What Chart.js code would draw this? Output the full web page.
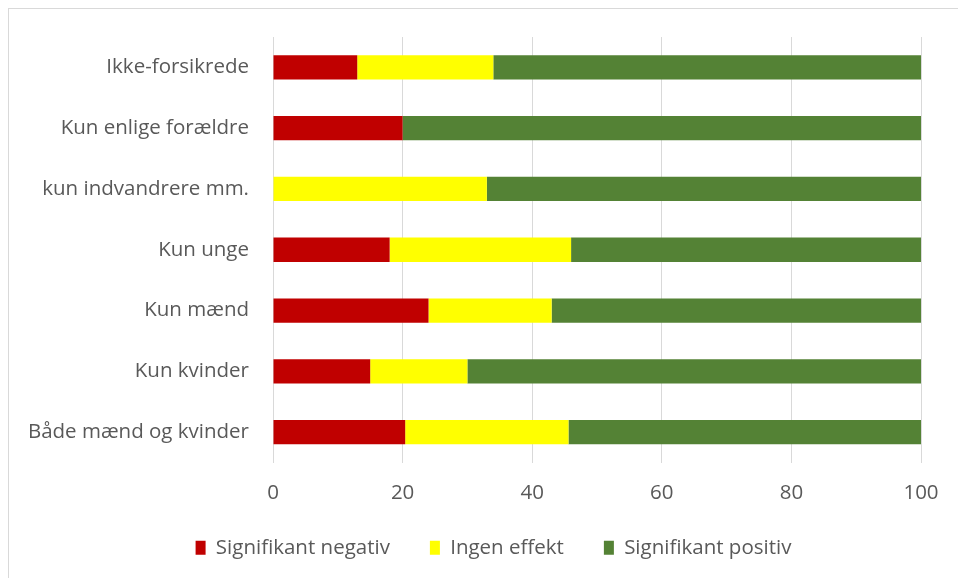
<!DOCTYPE html>
<html>
<head>
<meta charset="utf-8">
<script src="https://cdn.jsdelivr.net/npm/chart.js@4/dist/chart.umd.min.js"></script>
<style>
  html, body { margin: 0; padding: 0; background: #fff; }
  #wrap { position: relative; width: 958px; height: 578px; overflow: hidden; }
  #frame { position: absolute; left: 8px; top: 8px; width: 970px; height: 600px; border: 1px solid #d9d9d9; box-sizing: border-box; }
  canvas { position: absolute; left: 0; top: 0; }
</style>
</head>
<body>
<div id="wrap">
  <div id="frame"></div>
  <canvas id="c" width="958" height="578"></canvas>
</div>
<script>
const categories = ["Ikke-forsikrede", "Kun enlige forældre", "kun indvandrere mm.", "Kun unge", "Kun mænd", "Kun kvinder", "Både mænd og kvinder"];
const seriesNames = ["Signifikant negativ", "Ingen effekt", "Signifikant positiv"];
const negativ = [13, 20, 0, 18, 24, 15, 20.4];
const ingenEffekt = [21, 0, 33, 28, 19, 15, 25.2];
const positiv = [66, 80, 67, 54, 57, 70, 54.6];
const xTicks = [0, 20, 40, 60, 80, 100];

const colors = ["#C00000", "#FFFF00", "#548235"];
const FONT = "'Open Sans', sans-serif";
const TXT = "#595959";
const FS = 20.5;

const legendShift = {
  id: 'legendShift',
  afterLayout(chart) {
    const l = chart.legend;
    if (l) { l.left += 33; l.right += 33; l.top -= 10; l.bottom -= 10; }
  }
};

new Chart(document.getElementById('c'), {
  type: 'bar',
  data: {
    labels: categories,
    datasets: [negativ, ingenEffekt, positiv].map((d, i) => ({
      label: seriesNames[i],
      data: d,
      backgroundColor: colors[i],
      borderWidth: 0,
      barPercentage: 0.4,
      categoryPercentage: 1
    }))
  },
  options: {
    indexAxis: 'y',
    responsive: false,
    animation: false,
    layout: { padding: { top: 37, right: 37, left: 0, bottom: 0 } },
    scales: {
      x: {
        stacked: true,
        min: 0, max: 100,
        afterBuildTicks: s => { s.ticks = xTicks.map(v => ({ value: v })); },
        afterFit: s => { s.height = 45; },
        grid: { color: '#d9d9d9', drawTicks: false, lineWidth: 1 },
        border: { display: false },
        ticks: { padding: 18, color: TXT, font: { family: FONT, size: FS } }
      },
      y: {
        stacked: true,
        afterFit: s => { s.width = 273; },
        grid: { display: false, drawTicks: false },
        border: { display: false },
        ticks: { padding: 24, color: TXT, font: { family: FONT, size: FS } }
      }
    },
    plugins: {
      legend: {
        position: 'bottom',
        labels: { boxWidth: 10, boxHeight: 14, padding: 40, color: TXT, font: { family: FONT, size: FS } }
      },
      tooltip: { enabled: false }
    }
  },
  plugins: [legendShift]
});
</script>
</body>
</html>
